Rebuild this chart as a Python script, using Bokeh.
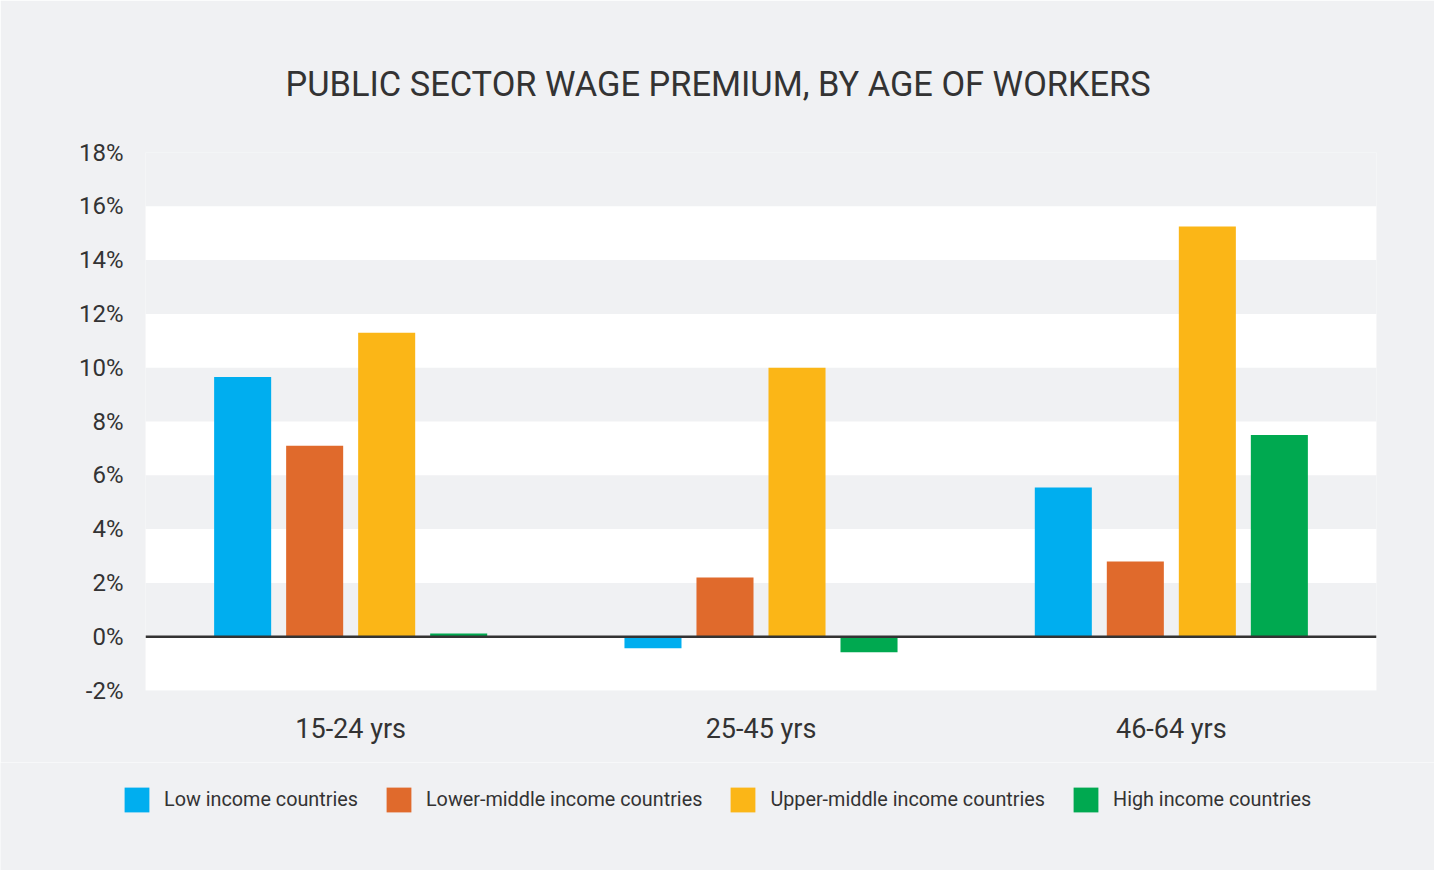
from bokeh.plotting import figure
from bokeh.layouts import column
from bokeh.models import (BoxAnnotation, Span, Legend, LegendItem, Title,
                          FixedTicker, ColumnDataSource)
from bokeh.transform import dodge
from bokeh.embed import file_html
from bokeh.resources import INLINE

ages = ["15-24 yrs", "25-45 yrs", "46-64 yrs"]
groups = ["Low income countries", "Lower-middle income countries",
          "Upper-middle income countries", "High income countries"]
low = [9.65, -0.43, 5.55]
lower_mid = [7.1, 2.2, 2.8]
upper_mid = [11.3, 10.0, 15.25]
high = [0.12, -0.58, 7.5]
colors = ["#00AEEF", "#E06A2C", "#FBB617", "#00A950"]
y_ticks = list(range(-2, 19, 2))
title = "PUBLIC SECTOR WAGE PREMIUM, BY AGE OF WORKERS"

FONT = "Roboto"
TXT = "#333333"
BG = "#F0F1F3"
cols = ["low", "lower_mid", "upper_mid", "high"]

src = ColumnDataSource(data=dict(age=ages, low=low, lower_mid=lower_mid,
                                 upper_mid=upper_mid, high=high))

p = figure(x_range=ages, y_range=(-2, 18), width=1434, height=762,
           output_backend="svg", toolbar_location=None, tools="",
           min_border_left=145, min_border_right=58,
           min_border_top=152, min_border_bottom=72)
p.background_fill_color = BG
p.border_fill_color = BG
p.outline_line_color = None
p.grid.visible = False
p.frame_align = False

# white bands every other 2% step, starting at -2%
for b in y_ticks[0:-1:2]:
    p.add_layout(BoxAnnotation(bottom=b, top=b + 2, fill_color="white",
                               fill_alpha=1, line_alpha=0, level="underlay"))

step = 0.1755
for i, col in enumerate(cols):
    p.vbar(x=dodge("age", (i - 1.5) * step, range=p.x_range), top=col,
           width=0.139, source=src, color=colors[i], line_color=None)

p.add_layout(Span(location=0, dimension="width", line_color="#333333",
                  line_width=2.5))

p.yaxis.ticker = FixedTicker(ticks=y_ticks)
p.yaxis.major_label_overrides = {t: f"{t}%" for t in y_ticks}
for ax in (p.xaxis, p.yaxis):
    ax.axis_line_color = None
    ax.major_tick_line_color = None
    ax.minor_tick_line_color = None
    ax.major_label_text_font = FONT
    ax.major_label_text_color = TXT
p.yaxis.major_label_text_font_size = "24px"
p.yaxis.major_label_standoff = 16
p.xaxis.major_label_text_font_size = "27px"
p.xaxis.major_label_standoff = 16

p.add_layout(Title(text=title, align="left", offset=140, standoff=98,
                   text_font=FONT, text_font_size="34.4px",
                   text_font_style="normal", text_color=TXT), "above")

# legend strip below the chart (same series, bars kept out of view)
lg = figure(x_range=ages, y_range=(100, 101), width=1434, height=108,
            output_backend="svg", toolbar_location=None, tools="",
            x_axis_type=None, y_axis_type=None, min_border=0)
lg.background_fill_color = BG
lg.border_fill_color = BG
lg.outline_line_color = None
lg.frame_align = False
items = []
for i, (col, name) in enumerate(zip(cols, groups)):
    r = lg.vbar(x=dodge("age", (i - 1.5) * step, range=lg.x_range), top=col,
                width=0.139, source=src, color=colors[i], line_color=None)
    items.append(LegendItem(label=name, renderers=[r]))

legend = Legend(items=items, orientation="horizontal", location=(121, 55),
                margin=0, padding=0, spacing=25, glyph_width=31, glyph_height=31,
                label_height=31, label_standoff=12,
                label_text_font=FONT, label_text_font_size="19.8px",
                label_text_color=TXT, label_text_baseline="middle",
                background_fill_alpha=0, border_line_color=None)
lg.add_layout(legend)

layout = column(p, lg, spacing=0)
open("out.html", "w").write(file_html(layout, INLINE))
